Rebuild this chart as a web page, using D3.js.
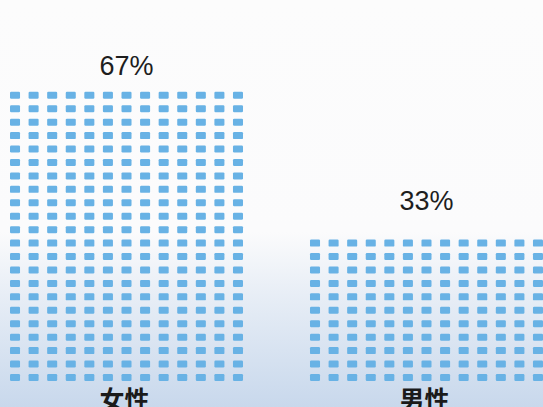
<!DOCTYPE html>
<html>
<head>
<meta charset="utf-8">
<script src="https://cdn.jsdelivr.net/npm/d3@7"></script>
<style>
  html, body { margin: 0; padding: 0; background: #fcfcfc; }
  svg { display: block; }
</style>
</head>
<body>
<div id="chart"></div>
<script>
// Share of respondents by gender, drawn as unit grids
const categories = ["女性", "男性"];
const values = [67, 33];
const valueLabels = ["67%", "33%"];

const totalRows = 33;   // rows that would represent 100%
const columns = 13;

const width = 543, height = 407;

const svg = d3.select("#chart").append("svg")
  .attr("width", width)
  .attr("height", height);

const defs = svg.append("defs");
const grad = defs.append("linearGradient")
  .attr("id", "bg").attr("x1", 0).attr("y1", 0).attr("x2", 0).attr("y2", 1);
grad.append("stop").attr("offset", "0%").attr("stop-color", "#fcfcfc");
grad.append("stop").attr("offset", "57%").attr("stop-color", "#fbfbfc");
grad.append("stop").attr("offset", "72%").attr("stop-color", "#e8eef6");
grad.append("stop").attr("offset", "100%").attr("stop-color", "#c8d8ec");

defs.append("filter").attr("id", "soft")
  .attr("x", "-5%").attr("y", "-5%").attr("width", "110%").attr("height", "110%")
  .append("feGaussianBlur").attr("stdDeviation", 0.6);

svg.append("rect")
  .attr("width", width).attr("height", height)
  .attr("fill", "url(#bg)");

// Group position for each category
const x = d3.scaleBand()
  .domain(categories)
  .range([10, 543])
  .paddingInner(0.2233)
  .paddingOuter(0);

// Column position inside a group
const col = d3.scaleBand()
  .domain(d3.range(columns))
  .range([0, x.bandwidth()])
  .paddingInner(0.46)
  .paddingOuter(0);

// Row position: unit rows stacked upward from the base line
const rowPitch = 13.44;
const y = d3.scaleLinear()
  .domain([0, totalRows])
  .range([381, 381 - totalRows * rowPitch]);

// Baseline of the percentage label, by value
const labelY = d3.scaleLinear()
  .domain([0, 100])
  .range([341, -56]);

const cellH = 7;

const rows = values.map(v => Math.round(v / 100 * totalRows));

const groups = svg.selectAll("g.grp")
  .data(categories.map((c, i) => ({ cat: c, value: values[i], label: valueLabels[i], rows: rows[i] })))
  .join("g")
  .attr("class", "grp")
  .attr("transform", d => `translate(${x(d.cat)},0)`);

groups.append("g")
  .attr("filter", "url(#soft)")
  .selectAll("rect")
  .data(d => {
    const cells = [];
    for (let r = 0; r < d.rows; r++)
      for (let c = 0; c < columns; c++) cells.push({ r, c });
    return cells;
  })
  .join("rect")
  .attr("x", d => col(d.c))
  .attr("y", d => y(d.r) - cellH)
  .attr("width", col.bandwidth())
  .attr("height", cellH)
  .attr("rx", 1.2)
  .attr("fill", "#68b2e5");

// Value label above each grid
groups.append("text")
  .attr("x", x.bandwidth() / 2)
  .attr("y", d => labelY(d.value))
  .attr("text-anchor", "middle")
  .attr("font-family", "'Liberation Sans', Arial, sans-serif")
  .attr("font-size", 27)
  .attr("fill", "#1e1e1e")
  .text(d => d.label);

// Category label below each grid
groups.append("text")
  .attr("x", x.bandwidth() / 2 - 2)
  .attr("y", 409)
  .attr("text-anchor", "middle")
  .attr("font-family", "'Noto Sans CJK SC', sans-serif")
  .attr("font-weight", 700)
  .attr("font-size", 25)
  .attr("fill", "#1a1a1a")
  .text(d => d.cat);
</script>
</body>
</html>
